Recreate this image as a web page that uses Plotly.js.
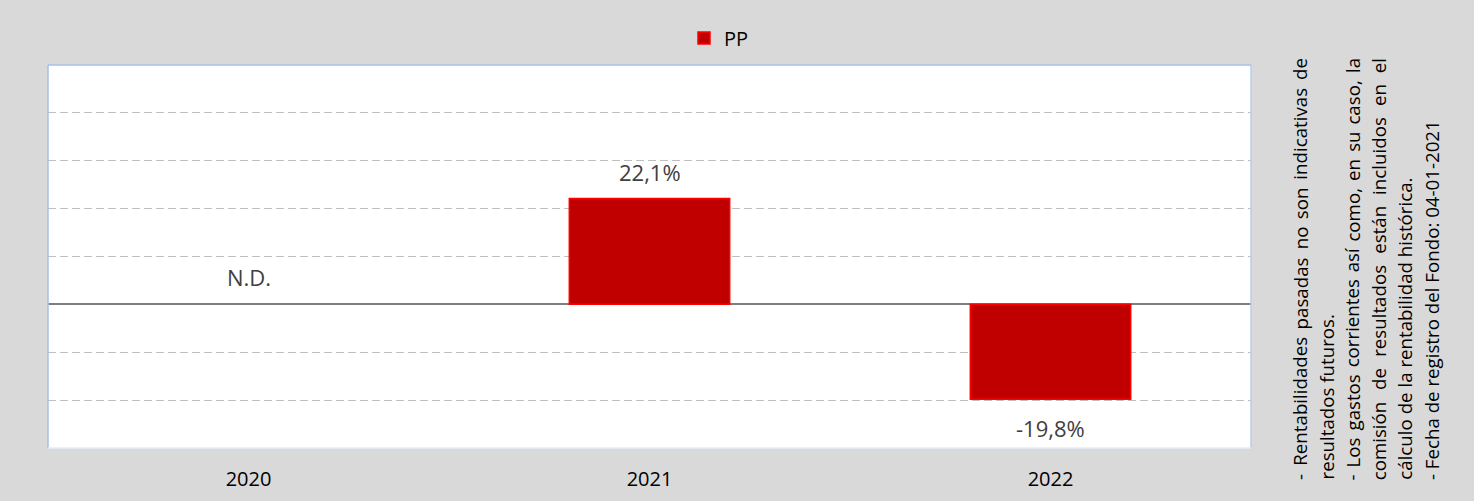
<!DOCTYPE html>
<html>
<head>
<meta charset="utf-8">
<script src="https://cdn.plot.ly/plotly-3.0.1.min.js"></script>
<style>html,body{margin:0;padding:0;background:#d9d9d9;font-family:"Open Sans";}#chart{width:1474px;height:501px;}</style>
</head>
<body>
<div id="chart"></div>
<script>
// ---- data ----
const years = ['2020', '2021', '2022'];
const ppValues = [null, 22.1, -19.8];
const valueLabels = ['N.D.', '22,1%', '-19,8%'];
const seriesName = 'PP';
const noteLines = [
  '- Rentabilidades pasadas no son indicativas de',
  'resultados futuros.',
  '- Los gastos corrientes así como, en su caso, la',
  'comisión de resultados están incluidos en el',
  'cálculo de la rentabilidad histórica.',
  '- Fecha de registro del Fondo: 04-01-2021'
];
const noteJustified = [true, false, true, true, false, false];

// ---- layout geometry (pixels) ----
const W = 1474, H = 501;
const L = 48, R = 1251, T = 65, B = 448;
const pw = R - L, ph = B - T;
const px2x = p => (p - L) / pw;
const px2y = p => (B - p) / ph;

const FONT = 'Open Sans, Noto Sans, sans-serif';

function draw() {
  // measure with an SVG text node (same engine as Plotly's text)
  const svgNS = 'http://www.w3.org/2000/svg';
  const svg = document.createElementNS(svgNS, 'svg');
  svg.setAttribute('width', '2000'); svg.setAttribute('height', '100');
  svg.style.position = 'absolute'; svg.style.left = '-3000px'; svg.style.top = '0';
  const tnode = document.createElementNS(svgNS, 'text');
  tnode.setAttribute('font-family', FONT);
  svg.appendChild(tnode);
  document.body.appendChild(svg);
  function measure(txt, size) {
    tnode.setAttribute('font-size', size + 'px');
    tnode.textContent = txt;
    return tnode.getComputedTextLength();
  }

  const noteSize = 20 * 360 / measure(noteLines[5], 20);
  const noteStart = 480, noteLen = 422;
  const noteX0 = 1300, noteDx = 26.2;

  const annotations = [];
  years.forEach((yr, i) => {
    const v = ppValues[i];
    const val = v === null ? 0 : v;
    annotations.push({
      x: i, y: val, xref: 'x', yref: 'y', text: valueLabels[i], showarrow: false,
      yanchor: 'middle', yshift: val >= 0 ? 27 : -29,
      font: {family: FONT, size: 22, color: '#404040'}
    });
  });

  function addRot(text, xp, bottomPx, w) {
    // center-anchored so padding/box measurement does not shift the start
    annotations.push({
      x: xp, y: px2y(bottomPx - w / 2), xref: 'paper', yref: 'paper', text: text, showarrow: false,
      textangle: -90, xanchor: 'center', yanchor: 'middle', borderpad: 0, borderwidth: 0,
      font: {family: FONT, size: noteSize, color: '#000000'}
    });
  }

  noteLines.forEach((line, li) => {
    const xp = px2x(noteX0 + li * noteDx);
    if (!noteJustified[li]) {
      addRot(line, xp, noteStart, measure(line, noteSize));
    } else {
      const words = line.split(' ');
      const widths = words.map(w => measure(w, noteSize));
      const total = widths.reduce((a, b) => a + b, 0);
      const gap = (noteLen - total) / (words.length - 1);
      let pos = noteStart;
      words.forEach((w, wi) => {
        addRot(w, xp, pos, widths[wi]);
        pos -= widths[wi] + gap;
      });
    }
  });
  document.body.removeChild(svg);

  const trace = {
    type: 'bar', x: years, y: ppValues, name: seriesName, width: 0.4,
    marker: {color: '#c00000', line: {color: '#ff0000', width: 1.5}},
    hoverinfo: 'skip', showlegend: true
  };

  const layout = {
    width: W, height: H,
    margin: {l: L, r: W - R, t: T, b: H - B, pad: 0},
    paper_bgcolor: '#d9d9d9', plot_bgcolor: '#ffffff',
    font: {family: FONT, size: 20, color: '#000000'},
    showlegend: true,
    legend: {orientation: 'h', x: px2x(684), y: px2y(38), xanchor: 'left', yanchor: 'middle',
             bgcolor: 'rgba(0,0,0,0)', font: {family: FONT, size: 20, color: '#000'}},
    xaxis: {type: 'category', range: [-0.5, 2.5], showgrid: false, zeroline: false, showline: false, ticks: '',
            ticklabelstandoff: 17, tickfont: {family: FONT, size: 20, color: '#000'}, fixedrange: true},
    yaxis: {range: [-30, 50], dtick: 10, tick0: 0, showticklabels: false, ticks: '',
            gridcolor: '#bfbfbf', gridwidth: 1, griddash: '8px,4px',
            zeroline: true, zerolinecolor: '#7f7f7f', zerolinewidth: 2, showline: false, fixedrange: true},
    annotations: annotations,
    shapes: [
      {type: 'line', xref: 'paper', yref: 'paper', x0: 0, x1: 1, y0: 1, y1: 1, line: {color: '#a6c0e8', width: 1.5}},
      {type: 'line', xref: 'paper', yref: 'paper', x0: 0, x1: 0, y0: 0, y1: 1, line: {color: '#a6c0e8', width: 1.5}},
      {type: 'line', xref: 'paper', yref: 'paper', x0: 1, x1: 1, y0: 0, y1: 1, line: {color: '#b9cdee', width: 1.5}},
      {type: 'line', xref: 'paper', yref: 'paper', x0: 0, x1: 1, y0: 0, y1: 0, line: {color: '#e3ebf7', width: 1.5}}
    ]
  };

  Plotly.newPlot('chart', [trace], layout, {staticPlot: true, displayModeBar: false});
}

if (document.fonts && document.fonts.load) {
  document.fonts.load('20px "Open Sans"').then(draw, draw);
} else {
  draw();
}
</script>
</body>
</html>
